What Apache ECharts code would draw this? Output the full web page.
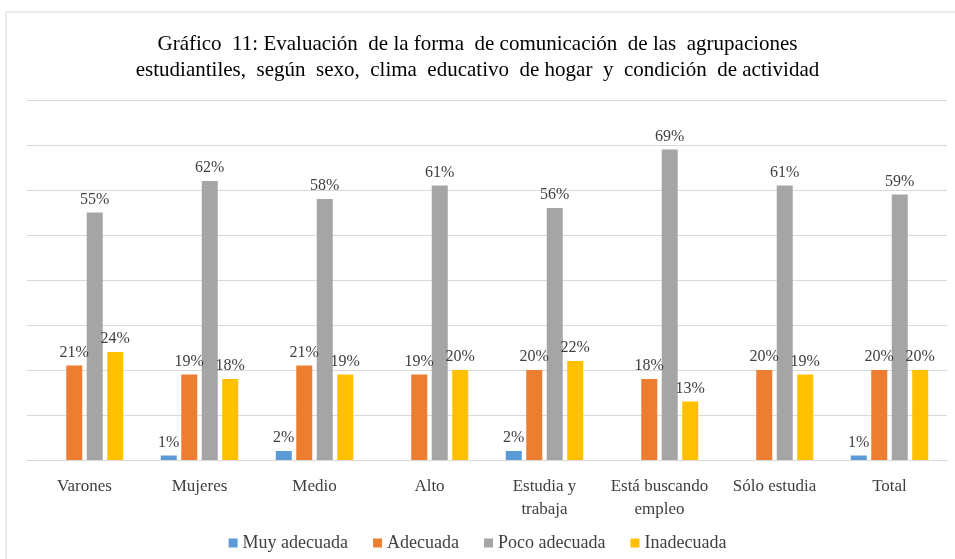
<!DOCTYPE html>
<html>
<head>
<meta charset="utf-8">
<script src="https://cdn.jsdelivr.net/npm/echarts@6/dist/echarts.min.js"></script>
<style>
  html, body { margin: 0; padding: 0; background: #fff; }
  #chart { width: 955px; height: 559px; }
</style>
</head>
<body>
<div id="chart"></div>
<script>
// categories and series values (percent)
const categories = ['Varones', 'Mujeres', 'Medio', 'Alto', 'Estudia y\ntrabaja', 'Está buscando\nempleo', 'Sólo estudia', 'Total'];
const muyAdecuada = [0, 1, 2, 0, 2, 0, 0, 1];
const adecuada = [21, 19, 21, 19, 20, 18, 20, 20];
const pocoAdecuada = [55, 62, 58, 61, 56, 69, 61, 59];
const inadecuada = [24, 18, 19, 20, 22, 13, 19, 20];

const serif = '"Liberation Serif", "DejaVu Serif", serif';
const textColor = '#404040';

const chart = echarts.init(document.getElementById('chart'));

function makeSeries(name, data, color) {
  return {
    name: name,
    type: 'bar',
    data: data,
    barWidth: 16,
    barGap: '28%',
    itemStyle: { color: color },
    label: {
      show: true,
      position: 'top',
      distance: 5,
      fontFamily: serif,
      fontSize: 16,
      color: textColor,
      formatter: (p) => p.value > 0 ? p.value + '%' : ''
    }
  };
}

const option = {
  backgroundColor: '#fff',
  animation: false,
  title: {
    text: 'Gráfico  11: Evaluación  de la forma  de comunicación  de las  agrupaciones\nestudiantiles,  según  sexo,  clima  educativo  de hogar  y  condición  de actividad',
    left: 'center',
    top: 26,
    textStyle: {
      fontFamily: serif,
      fontSize: 21,
      fontWeight: 'normal',
      color: '#000',
      lineHeight: 26
    }
  },
  graphic: [{
    type: 'rect',
    shape: { x: 6, y: 12, width: 960, height: 560 },
    style: { fill: 'none', stroke: '#d9d9d9', lineWidth: 1 },
    silent: true
  }],
  legend: {
    bottom: 2,
    left: 'center',
    itemWidth: 9,
    itemHeight: 9,
    itemGap: 25,
    icon: 'rect',
    textStyle: { fontFamily: serif, fontSize: 18, color: textColor }
  },
  grid: { left: 27, right: 8, top: 100, bottom: 99 },
  xAxis: {
    type: 'category',
    data: categories,
    axisTick: { show: false },
    axisLine: { lineStyle: { color: '#d9d9d9' } },
    axisLabel: {
      fontFamily: serif,
      fontSize: 17,
      color: textColor,
      margin: 15,
      lineHeight: 23,
      interval: 0
    }
  },
  yAxis: {
    type: 'value',
    min: 0,
    max: 80,
    interval: 10,
    axisLabel: { show: false },
    axisLine: { show: false },
    axisTick: { show: false },
    splitLine: { lineStyle: { color: '#d9d9d9' } }
  },
  series: [
    makeSeries('Muy adecuada', muyAdecuada, '#5b9bd5'),
    makeSeries('Adecuada', adecuada, '#ed7d31'),
    makeSeries('Poco adecuada', pocoAdecuada, '#a5a5a5'),
    makeSeries('Inadecuada', inadecuada, '#ffc000')
  ]
};

chart.setOption(option);
</script>
</body>
</html>
